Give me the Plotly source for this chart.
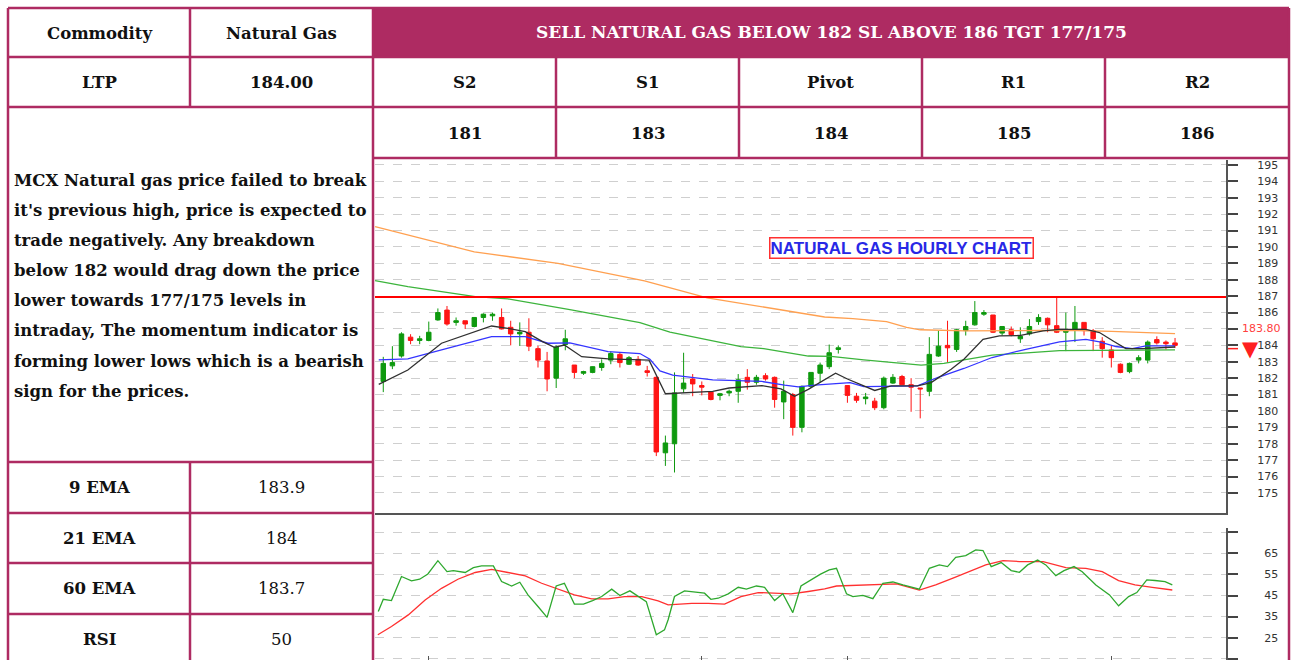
import plotly.graph_objects as go

OX, OY = 0, 0
FW, FH = 1291, 660

# ---------------- data ----------------
opens = [181.8, 182.75, 183.35, 184.5, 184.3, 184.3, 185.55, 186.15, 185.4, 185.5,
         185.15, 185.7, 185.8, 185.7, 185.1, 184.7, 184.8, 183.8, 183.05, 182.0,
         184.05, 182.8, 182.3, 182.35, 182.65, 183.1, 183.45, 182.85, 183.15, 182.45,
         182.05, 177.45, 178.0, 181.35, 181.95, 181.55, 181.15, 180.95, 181.1, 181.2,
         182.05, 181.75, 182.15, 182.05, 180.55, 181.0, 179.0, 181.5, 182.3, 182.7,
         183.75, 181.55, 180.9, 180.75, 180.6, 180.2, 181.7, 182.1, 181.6, 181.4,
         181.2, 183.35, 184.0, 183.75, 184.9, 185.25, 185.9, 185.85, 184.75, 184.95,
         184.4, 184.7, 185.45, 185.65, 185.2, 184.8, 185.0, 185.4, 184.9, 184.25,
         183.72, 182.85, 182.4, 183.1, 183.1, 184.35, 184.2, 184.15]
highs = [183.3, 183.95, 184.8, 184.68, 184.58, 185.45, 186.25, 186.4, 185.7, 185.5,
         185.7, 185.95, 186.0, 186.25, 185.5, 185.4, 185.65, 183.97, 183.6, 184.0,
         184.95, 182.8, 182.45, 182.72, 183.15, 183.65, 183.55, 183.35, 183.35, 182.75,
         182.1, 178.5, 182.35, 183.55, 182.25, 181.8, 181.2, 181.1, 181.3, 182.25,
         182.55, 182.2, 182.3, 182.1, 181.85, 181.1, 181.55, 182.35, 182.95, 184.05,
         184.0, 181.55, 181.1, 181.1, 180.8, 182.1, 182.25, 182.2, 182.0, 181.4,
         184.5, 184.9, 185.5, 185.0, 185.5, 186.7, 186.15, 185.85, 185.15, 185.15,
         185.1, 185.6, 185.9, 185.7, 186.9, 186.0, 186.4, 185.4, 185.0, 184.5,
         183.97, 182.9, 182.95, 183.4, 184.3, 184.55, 184.3, 184.45]
lows = [181.15, 182.55, 183.25, 184.07, 184.07, 184.25, 185.5, 185.2, 185.2, 185.0,
        185.1, 185.4, 185.5, 184.97, 184.0, 183.97, 183.65, 182.65, 181.2, 181.4,
        183.7, 182.0, 182.2, 182.3, 182.45, 182.85, 182.65, 182.8, 182.75, 182.1,
        177.25, 176.65, 176.25, 181.1, 180.9, 180.95, 180.65, 180.65, 180.9, 180.5,
        181.3, 181.6, 181.85, 180.2, 179.5, 178.5, 178.7, 181.4, 181.75, 182.55,
        183.5, 180.5, 180.5, 180.4, 180.05, 180.1, 181.65, 181.6, 179.95, 179.55,
        180.9, 183.3, 182.95, 183.6, 184.6, 185.2, 185.8, 184.75, 184.6, 184.55,
        184.15, 184.6, 185.25, 184.8, 184.75, 183.65, 184.2, 184.6, 183.65, 183.25,
        182.65, 182.3, 182.3, 182.9, 182.9, 184.05, 183.75, 183.85]
closes = [182.9, 182.95, 184.7, 184.3, 184.4, 184.8, 186.0, 185.3, 185.5, 185.3,
          185.7, 185.9, 185.9, 185.0, 184.7, 184.8, 183.95, 183.1, 181.95, 183.9,
          184.4, 182.35, 182.4, 182.7, 182.9, 183.5, 182.95, 183.25, 182.8, 182.35,
          177.5, 178.05, 181.1, 181.7, 181.65, 181.45, 180.7, 181.05, 181.2, 181.9,
          181.75, 182.05, 181.95, 180.7, 181.2, 179.0, 181.5, 182.35, 182.8, 183.55,
          183.85, 180.95, 180.65, 180.85, 180.2, 182.0, 182.05, 181.6, 181.45, 181.35,
          183.45, 183.95, 183.85, 184.95, 185.15, 186.0, 186.0, 184.8, 185.15, 184.65,
          184.55, 185.15, 185.7, 185.25, 184.8, 184.95, 185.4, 184.9, 184.4, 183.8,
          183.25, 182.35, 182.9, 183.25, 184.2, 184.15, 184.1, 184.0]
candle_idx = list(range(len(opens)))

# moving averages (candle index, price)
ema9_x = [-0.5, 2.7, 6.4, 10.1, 11.9, 13.7, 15.6, 17.5, 18.8, 19.9, 21.8, 24.7, 29.2, 31.0,
          36.2, 38.0, 41.6, 43.7, 45.2, 46.7, 49.7, 51.0, 54.0, 55.8, 58.7, 60.2, 62.4,
          63.8, 65.9, 67.7, 69.9, 72.5, 74.3, 77.2, 78.7, 80.2, 81.6, 83.4, 87.0]
ema9_y = [181.62, 182.5, 184.13, 184.84, 185.18, 185.04, 184.84, 184.23, 183.88, 184.02,
          183.31, 183.17, 183.1, 181.05, 181.2, 181.4, 181.55, 181.35, 180.9, 181.32,
          182.3, 181.95, 181.25, 181.53, 181.53, 181.73, 182.54, 183.15, 184.37, 184.58,
          184.6, 184.88, 184.98, 184.98, 184.78, 184.27, 183.8, 183.8, 183.9]
ema21_x = [-0.5, 2.7, 6.4, 11.9, 15.6, 18.1, 20.5, 24.7, 28.2, 29.3, 30.4, 31.8, 36.2,
           41.6, 44.1, 45.6, 47.4, 51.3, 52.8, 58.7, 60.9, 63.8, 66.9, 70.6, 74.3, 77.2,
           78.7, 80.5, 82.3, 83.8, 87.0]
ema21_y = [183.11, 183.17, 183.72, 184.53, 184.53, 184.13, 184.15, 183.62, 183.5, 183.15,
           182.44, 182.18, 181.89, 181.8, 181.57, 181.47, 181.57, 181.73, 181.49, 181.53,
           182.04, 182.59, 183.26, 183.76, 184.21, 184.37, 184.21, 183.93, 183.8, 183.97,
           183.97]
ema60_x = [-0.9, 2.7, 10.1, 13.7, 20.5, 28.2, 31.5, 39.3, 41.8, 46.7, 49.2, 52.8, 59.1,
           61.6, 63.8, 66.9, 74.3, 87.0]
ema60_y = [187.95, 187.58, 186.97, 186.83, 186.18, 185.39, 184.8, 183.92, 183.8, 183.35,
           183.33, 183.11, 182.79, 182.9, 183.11, 183.4, 183.68, 183.73]
ema200_x = [-0.9, 10.0, 19.2, 28.7, 35.6, 42.4, 48.5, 51.6, 55.3, 57.5, 59.0, 64.0, 75.0,
            80.0, 87.0]
ema200_y = [191.24, 189.7, 189.0, 187.93, 186.9, 186.26, 185.73, 185.63, 185.45, 185.1,
            184.95, 184.88, 184.92, 184.85, 184.72]

resistance = 186.95
last_price_label = "183.80"
last_price = 183.8

# RSI panel
rsi_x = [-0.55, 0.0, 0.9, 2.0, 3.1, 4.0, 4.9, 6.0, 7.0, 7.7, 9.0, 9.9, 10.8, 12.1, 13.0,
         14.1, 15.0, 15.9, 17.0, 18.0, 19.0, 19.9, 21.0, 22.0, 23.0, 24.0, 25.1, 26.0,
         27.1, 28.0, 28.9, 30.0, 30.9, 31.3, 32.0, 33.1, 34.2, 35.3, 36.0, 36.8, 37.9,
         39.0, 39.9, 41.0, 41.9, 43.0, 43.9, 45.0, 45.9, 47.0, 48.0, 49.0, 49.8, 50.9,
         51.6, 52.7, 53.8, 54.9, 56.0, 57.1, 58.9, 60.0, 61.1, 62.0, 62.9, 64.0, 65.1,
         65.9, 66.8, 67.9, 69.0, 69.9, 70.8, 71.9, 72.8, 73.9, 74.8, 75.9, 76.8, 78.3,
         79.8, 80.8, 81.9, 82.8, 83.9, 84.8, 85.9, 86.7]
rsi_y = [37.4, 43.2, 42.6, 54.0, 51.9, 52.7, 55.2, 61.5, 56.3, 56.8, 55.9, 58.2, 59.0,
         59.0, 51.6, 49.5, 51.3, 45.3, 39.8, 34.6, 49.5, 50.8, 40.9, 40.9, 42.6, 44.5,
         48.0, 45.0, 47.2, 44.8, 42.1, 26.4, 28.7, 33.5, 44.5, 47.2, 46.7, 46.1, 43.2,
         43.7, 45.8, 48.9, 48.0, 49.5, 48.9, 42.6, 45.8, 36.9, 49.5, 52.4, 55.0, 57.1,
         57.9, 45.8, 44.5, 45.1, 43.5, 50.8, 51.4, 50.0, 48.0, 57.9, 59.5, 58.7, 63.1,
         63.9, 66.6, 66.3, 58.7, 60.6, 56.8, 56.0, 59.5, 61.8, 59.5, 54.4, 56.8, 58.7,
         56.3, 50.0, 45.3, 40.1, 44.5, 46.4, 52.4, 52.1, 51.6, 50.0]
rsi_sig_x = [-0.6, 0.9, 2.75, 4.6, 6.4, 8.2, 10.1, 11.9, 13.7, 15.6, 17.4, 19.2, 21.0,
             22.9, 24.7, 26.5, 28.4, 30.2, 31.3, 33.9, 35.7, 37.5, 39.3, 41.2, 43.0,
             44.8, 46.7, 48.5, 49.8, 53.4, 56.4, 58.9, 60.7, 62.6, 64.4, 66.2, 68.1,
             69.9, 72.5, 73.5, 75.0, 77.2, 79.0, 80.8, 82.6, 84.5, 86.7]
rsi_sig_y = [26.4, 30.3, 35.8, 42.9, 48.4, 52.7, 55.9, 57.4, 55.9, 54.3, 50.8, 48.0, 45.3,
             43.4, 43.4, 44.5, 44.5, 42.4, 40.6, 41.3, 41.3, 40.9, 44.5, 46.4, 46.1,
             45.8, 46.9, 48.1, 49.5, 50.0, 50.5, 47.6, 50.0, 53.2, 56.3, 59.5, 61.5,
             61.1, 61.1, 60.0, 58.2, 57.9, 56.3, 52.1, 50.0, 48.9, 47.6]
day_breaks = [5, 35, 51, 80]

price_ticks = list(range(175, 196))
rsi_ticks = [15, 25, 35, 45, 55, 65, 75]

# table content
header_text = "SELL NATURAL GAS BELOW 182 SL ABOVE 186 TGT 177/175"
level_names = ["S2", "S1", "Pivot", "R1", "R2"]
level_values = ["181", "183", "184", "185", "186"]
commodity = "Natural Gas"
ltp = "184.00"
indicator_names = ["9 EMA", "21 EMA", "60 EMA", "RSI"]
indicator_values = ["183.9", "184", "183.7", "50"]
comment_lines = [
    "MCX Natural gas price failed to break",
    "it's previous high, price is expected to",
    "trade negatively. Any breakdown",
    "below 182 would drag down the price",
    "lower towards 177/175 levels in",
    "intraday, The momentum indicator is",
    "forming lower lows which is a bearish",
    "sign for the prices.",
]
chart_title = "NATURAL GAS HOURLY CHART"

# ---------------- styling / geometry ----------------
MAGENTA = "#AE2B62"
GREEN = "#0e990e"
RED = "#ff1414"
SERIF = "DejaVu Serif"
SANS = "DejaVu Sans"


def px(x):
    return (x - OX) / FW


def py(y):
    return 1 - (y - OY) / FH


fig = go.Figure()

fig.add_trace(go.Candlestick(
    x=candle_idx, open=opens, high=highs, low=lows, close=closes,
    increasing=dict(line=dict(color=GREEN, width=1), fillcolor=GREEN),
    decreasing=dict(line=dict(color=RED, width=1), fillcolor=RED),
    whiskerwidth=0, xaxis="x", yaxis="y", showlegend=False, hoverinfo="skip"))

for xs, ys, col in [(ema200_x, ema200_y, "#ffa050"), (ema60_x, ema60_y, "#3cb43c"),
                    (ema21_x, ema21_y, "#3434ff"), (ema9_x, ema9_y, "#303030")]:
    fig.add_trace(go.Scatter(x=xs, y=ys, mode="lines", line=dict(color=col, width=1.3),
                             xaxis="x", yaxis="y", showlegend=False, hoverinfo="skip"))

fig.add_trace(go.Scatter(x=rsi_sig_x, y=rsi_sig_y, mode="lines",
                         line=dict(color="#ff3030", width=1.3), xaxis="x2", yaxis="y2",
                         showlegend=False, hoverinfo="skip"))
fig.add_trace(go.Scatter(x=rsi_x, y=rsi_y, mode="lines",
                         line=dict(color="#2ea82e", width=1.3), xaxis="x2", yaxis="y2",
                         showlegend=False, hoverinfo="skip"))

plot_l, plot_r = 375, 1226
price_top, price_bot = 160, 513
rsi_top = 528
page_bottom = OY + FH
xr = [-0.91, 92.6]
# RSI scale: 65 at y=553.3, 2.11 px per unit
rsi_range = [65 - (page_bottom - 553.3) / 2.11, 65 + (553.3 - rsi_top) / 2.11]

axis_common = dict(showgrid=False, zeroline=False, showticklabels=False)
grid_style = dict(showgrid=True, gridcolor="#cfcfcf", griddash="dash", gridwidth=1)

fig.update_layout(
    width=FW, height=FH, margin=dict(l=0, r=0, t=0, b=0),
    paper_bgcolor="white", plot_bgcolor="white", showlegend=False,
    xaxis=dict(domain=[px(plot_l), px(plot_r)], range=xr, anchor="y",
               showline=True, linecolor="#555555", linewidth=2, ticks="",
               rangeslider=dict(visible=False), **axis_common),
    yaxis=dict(domain=[py(price_bot), py(price_top)], range=[173.78, 195.3], side="right",
               anchor="x", tickvals=price_ticks,
               ticktext=["" if t == 185 else str(t) for t in price_ticks],
               ticks="outside", ticklen=10, tickwidth=2, tickcolor="#444444",
               showline=True, linecolor="#555555", linewidth=2, zeroline=False,
               tickfont=dict(family=SANS, size=11, color="#333333"),
               ticklabelstandoff=17, **grid_style),
    xaxis2=dict(domain=[px(plot_l), px(plot_r)], range=xr, anchor="y2",
                tickvals=day_breaks, ticks="inside", ticklen=4, tickcolor="#555555",
                showline=False, **axis_common),
    yaxis2=dict(domain=[0, py(rsi_top)], range=rsi_range, side="right", anchor="x2",
                tickvals=rsi_ticks, ticktext=["" if t == 75 else str(t) for t in rsi_ticks],
                ticks="outside", ticklen=10, tickwidth=2, tickcolor="#444444",
                showline=True, linecolor="#555555", linewidth=2, zeroline=False,
                tickfont=dict(family=SANS, size=11, color="#333333"),
                ticklabelstandoff=24, **grid_style),
)

shapes = []
# resistance line
shapes.append(dict(type="line", xref="x domain", x0=0, x1=1, yref="y",
                   y0=resistance, y1=resistance, line=dict(color="#ff0000", width=2)))
# last price tick marker
shapes.append(dict(type="line", xref="paper", x0=px(1228), x1=px(1238), yref="y",
                   y0=last_price, y1=last_price, line=dict(color="#ff2020", width=1.5)))

# table
BL, BR = 8, 1289
BT = 8
c1, c2 = 190, 373
vcols = [556, 739, 922, 1105]
r1, r2, r3 = 57, 107, 158
lrows = [462, 513, 563, 614]
BOTTOM = 675
shapes.append(dict(type="rect", xref="paper", yref="paper", x0=px(c2), x1=px(BR),
                   y0=py(r1), y1=py(BT), fillcolor=MAGENTA, line=dict(width=0), layer="below"))
segs = []
for y in [BT, r1, r2]:
    segs.append((BL, y, BR, y))
segs.append((c2, r3, BR, r3))
for y in lrows:
    segs.append((BL, y, c2, y))
segs.append((BL, BT, BL, BOTTOM))
segs.append((c1, BT, c1, r2))
segs.append((c1, lrows[0], c1, BOTTOM))
segs.append((c2, BT, c2, BOTTOM))
segs.append((BR, BT, BR, BOTTOM))
for x in vcols:
    segs.append((x, r1, x, r3))
for (xa, ya, xb, yb) in segs:
    shapes.append(dict(type="line", xref="paper", yref="paper", x0=px(xa), x1=px(xb),
                       y0=py(ya), y1=py(yb), line=dict(color=MAGENTA, width=2.5)))

annotations = []


def txt(x, y, s, size=16.5, color="#111111", bold=True, family=SERIF, xanchor="center"):
    annotations.append(dict(xref="paper", yref="paper", x=px(x), y=py(y),
                            text=("<b>%s</b>" % s) if bold else s, showarrow=False,
                            xanchor=xanchor, yanchor="middle",
                            font=dict(family=family, size=size, color=color)))


txt((BL + c1) / 2, 33, "Commodity")
txt((c1 + c2) / 2, 33, commodity)
txt((BL + c1) / 2, 83, "LTP")
txt((c1 + c2) / 2, 83, ltp)
txt((c2 + BR) / 2, 32, header_text, size=17, color="white")
cols = [c2] + vcols + [BR]
for i in range(5):
    cx = (cols[i] + cols[i + 1]) / 2
    txt(cx, 83, level_names[i])
    txt(cx, 134, level_values[i])
for i, line in enumerate(comment_lines):
    txt(12, 180 + i * 30.2, line, xanchor="left")
row_edges = lrows + [665]
for i in range(4):
    cy = (row_edges[i] + row_edges[i + 1]) / 2
    txt((BL + c1) / 2, cy, indicator_names[i])
    txt((c1 + c2) / 2, cy, indicator_values[i], bold=False)

# chart title box
annotations.append(dict(xref="paper", yref="paper", x=px(901.5), y=py(248.5),
                        text="<b>%s</b>" % chart_title, showarrow=False,
                        font=dict(family="Liberation Sans", size=17, color="#2828e6"),
                        bordercolor="#ff3030", borderwidth=1.5, borderpad=0,
                        bgcolor="white", xanchor="center", yanchor="middle"))
# price label + arrow
annotations.append(dict(xref="paper", yref="y", x=px(1261.5), y=185,
                        text=last_price_label, showarrow=False,
                        font=dict(family=SANS, size=11, color="#ff4040"),
                        xanchor="center", yanchor="middle"))
annotations.append(dict(xref="paper", yref="y", x=px(1250), y=last_price,
                        text="▼", showarrow=False,
                        font=dict(family=SANS, size=21, color="#ff2020"),
                        xanchor="center", yanchor="middle"))

fig.update_layout(shapes=shapes, annotations=annotations)
fig.write_html("out.html",
               config={"displayModeBar": False, "staticPlot": True},
               post_script="document.body.style.margin='0';"
                           "document.body.style.overflow='hidden';")
